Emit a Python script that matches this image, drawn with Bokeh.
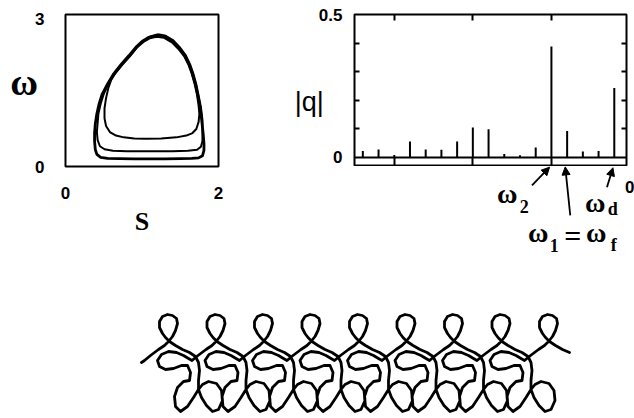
from bokeh.plotting import figure
from bokeh.layouts import column, row
from bokeh.models import Range1d, LinearAxis, FixedTicker, Span, Label, Arrow, NormalHead
from bokeh.embed import file_html
from bokeh.resources import INLINE

# ---------------- phase portrait (s, omega) ----------------
outer_s = [1.20, 1.30, 1.40, 1.48, 1.56, 1.62, 1.66, 1.70, 1.73, 1.76, 1.78, 1.80, 1.81, 1.81,
           1.79, 1.74, 1.65, 1.50, 1.30, 1.10, 0.90, 0.70, 0.55, 0.46, 0.41, 0.39, 0.38, 0.38,
           0.39, 0.41, 0.44, 0.48, 0.55, 0.63, 0.73, 0.83, 0.93, 1.01, 1.09, 1.20]
outer_w = [2.59, 2.57, 2.47, 2.35, 2.19, 2.00, 1.83, 1.62, 1.40, 1.17, 0.92, 0.64, 0.45, 0.32,
           0.21, 0.17, 0.16, 0.155, 0.15, 0.15, 0.15, 0.155, 0.16, 0.18, 0.24, 0.33, 0.50, 0.66,
           0.85, 1.04, 1.24, 1.43, 1.63, 1.83, 2.02, 2.19, 2.37, 2.48, 2.55, 2.59]
mid_s = [1.21, 1.31, 1.41, 1.49, 1.57, 1.63, 1.67, 1.71, 1.74, 1.77, 1.79, 1.79, 1.79, 1.77,
         1.72, 1.60, 1.40, 1.20, 1.00, 0.80, 0.62, 0.51, 0.45, 0.42, 0.41, 0.42, 0.43, 0.46,
         0.50, 0.56, 0.64, 0.74, 0.84, 0.94, 1.02, 1.10, 1.21]
mid_w = [2.61, 2.58, 2.49, 2.36, 2.20, 2.01, 1.84, 1.62, 1.40, 1.17, 0.92, 0.66, 0.50, 0.39,
         0.33, 0.31, 0.30, 0.30, 0.30, 0.30, 0.31, 0.34, 0.40, 0.52, 0.68, 0.86, 1.04, 1.24,
         1.43, 1.63, 1.82, 2.01, 2.18, 2.36, 2.48, 2.56, 2.61]
inner_s = [1.19, 1.29, 1.39, 1.47, 1.55, 1.61, 1.65, 1.69, 1.72, 1.74, 1.75, 1.74, 1.71, 1.66,
           1.58, 1.45, 1.25, 1.05, 0.90, 0.76, 0.66, 0.58, 0.53, 0.51, 0.51, 0.53, 0.56, 0.60,
           0.66, 0.75, 0.85, 0.94, 1.02, 1.10, 1.19]
inner_w = [2.56, 2.54, 2.45, 2.33, 2.18, 2.00, 1.83, 1.62, 1.41, 1.20, 1.04, 0.88, 0.74, 0.66,
           0.61, 0.575, 0.555, 0.55, 0.555, 0.575, 0.61, 0.68, 0.80, 0.95, 1.15, 1.35, 1.55, 1.72,
           1.86, 2.02, 2.19, 2.36, 2.46, 2.53, 2.56]
s_ticks = [0, 2]
w_ticks = [0, 2.92]
w_tick_labels = {0: "0", 2.92: "3"}

# ---------------- spectrum |q| ----------------
freq = [-3.4, -3.2, -3.0, -2.8, -2.6, -2.4, -2.2, -2.0, -1.8, -1.6, -1.4, -1.2, -1.0, -0.8,
        -0.6, -0.4, -0.2]
amp = [0.023, 0.028, 0.009, 0.056, 0.028, 0.027, 0.056, 0.105, 0.099, 0.012, 0.008, 0.035,
       0.388, 0.093, 0.021, 0.023, 0.243]
q_major = [0, 0.5]
q_minor = [0.1, 0.2, 0.3, 0.4]
f_ticks = [-3.0, -2.0, -1.0]
f_zero = 0.0

# arrows (tail x, tail y, head x, head y) and labels of the marked lines
arrow_tail_x = [-1.246, -0.758, -0.290]
arrow_tail_y = [-0.099, -0.204, -0.105]
arrow_head_x = [-1.022, -0.822, -0.214]
arrow_head_y = [-0.035, -0.034, -0.037]
sym_text = ["ω", "2", "ω", "d", "ω", "1", "=", "ω", "f"]
sym_x = [-1.561, -1.344, -0.4395, -0.2166, -1.166, -0.962, -0.726, -0.427, -0.204]
sym_y = [-0.128, -0.173, -0.1575, -0.183, -0.265, -0.309, -0.274, -0.264, -0.309]
sym_size = ["28px", "18px", "28px", "18px", "28px", "18px", "30px", "28px", "18px"]

# ---------------- trajectory (one traced period, repeated along the drift) ----------------
traj_u = [-24, -18, -10, -4, 0, 4, 7, 9, 8, 4, -1, -6, -9, -9, -6, -3, 1, 7, 14, 21,
          27, 30, 31, 30, 30, 33, 38, 44, 50, 54, 53, 48, 40, 34, 30, 25, 19, 12, 7, 6,
          9, 15, 21, 22, 19, 13, 5, -3, -9, -11, -7, 0, 8, 15, 20]
traj_y = [0, 5, 11, 15, 19, 24, 30, 37, 42, 45, 46, 44, 39, 33, 27, 23, 19, 15, 11, 8,
          4, -2, -10, -20, -29, -37, -45, -51, -49, -40, -30, -23, -21, -24, -29, -37, -46, -51, -46, -36,
          -27, -21, -20, -12, -5, -5, -8, -9, -6, 0, 6, 9, 8, 5, 2]
traj_start = (-27, -2)
traj_period = 47.5
n_periods = 9
last_period_points = 20

FONT_TICK = "Liberation Sans"
FONT_SYM = "Liberation Serif"


def style_frame(p):
    p.grid.visible = False
    p.outline_line_color = "black"
    p.outline_line_width = 2
    p.outline_line_alpha = 1.0
    p.background_fill_color = "white"
    p.border_fill_color = "white"


def style_axis(ax, standoff):
    ax.axis_line_color = None
    ax.major_label_text_font = FONT_TICK
    ax.major_label_text_font_style = "bold"
    ax.major_label_text_font_size = "17px"
    ax.major_label_text_color = "black"
    ax.major_label_standoff = standoff


def bare(p):
    p.grid.visible = False
    p.outline_line_color = None
    p.background_fill_color = "white"
    p.border_fill_color = "white"


# ---------------- left panel ----------------
p1 = figure(width=248, height=288, x_range=Range1d(0, 2), y_range=Range1d(0, 3),
            output_backend="svg", toolbar_location=None,
            min_border_left=65, min_border_right=30, min_border_top=14, min_border_bottom=122)
style_frame(p1)
p1.xaxis.ticker = FixedTicker(ticks=s_ticks)
p1.yaxis.ticker = FixedTicker(ticks=w_ticks)
p1.yaxis.major_label_overrides = w_tick_labels
for ax in (p1.xaxis[0], p1.yaxis[0]):
    style_axis(ax, 14)
    ax.major_tick_line_color = None
    ax.minor_tick_line_color = None
    ax.axis_label_text_font = FONT_SYM
    ax.axis_label_text_font_style = "bold"
    ax.axis_label_text_color = "black"
p1.yaxis.major_label_standoff = 15
p1.yaxis.axis_label = "ω\n"
p1.yaxis.axis_label_text_line_height = 0.42
p1.yaxis.axis_label_orientation = "horizontal"
p1.yaxis.axis_label_text_font_size = "38px"
p1.yaxis.axis_label_standoff = -6
p1.xaxis.axis_label = "S"
p1.xaxis.axis_label_text_font_size = "26px"
p1.xaxis.axis_label_standoff = 5

p1.line(outer_s, outer_w, line_color="black", line_width=2.8, line_join="round")
p1.line(mid_s, mid_w, line_color="black", line_width=2.0, line_join="round")
p1.line(inner_s, inner_w, line_color="black", line_width=2.0, line_join="round")

# ---------------- right panel ----------------
p2 = figure(width=386, height=166, x_range=Range1d(-3.506, -0.0446), y_range=Range1d(-0.0315, 0.5),
            output_backend="svg", toolbar_location=None,
            min_border_left=106, min_border_right=8, min_border_top=14, min_border_bottom=0)
style_frame(p2)

ly = p2.yaxis[0]
ly.ticker = FixedTicker(ticks=q_major, minor_ticks=q_minor)
style_axis(ly, 12)
ly.major_label_overrides = {0: "0", 0.5: "0.5"}
ly.major_tick_in = 0
ly.major_tick_out = 0
ly.minor_tick_in = 5
ly.minor_tick_out = 0
ly.minor_tick_line_width = 2
ly.axis_label = "\n|q|"
ly.axis_label_text_line_height = 0.75
ly.axis_label_text_font = FONT_TICK
ly.axis_label_text_font_style = "normal"
ly.axis_label_text_font_size = "27px"
ly.axis_label_text_color = "black"
ly.axis_label_orientation = "horizontal"
ly.axis_label_standoff = -8

bx = p2.xaxis[0]
bx.ticker = FixedTicker(ticks=[], minor_ticks=f_ticks)
bx.axis_line_color = None
bx.major_label_standoff = 0
bx.major_label_text_font_size = "0px"
bx.major_tick_out = 0
bx.minor_tick_in = 9
bx.minor_tick_out = 0
bx.minor_tick_line_width = 2

ry = LinearAxis(ticker=FixedTicker(ticks=[], minor_ticks=q_minor))
ry.axis_line_color = None
ry.major_label_standoff = 0
ry.major_label_text_font_size = "0px"
ry.major_tick_out = 0
ry.minor_tick_in = 5
ry.minor_tick_out = 0
ry.minor_tick_line_width = 2
p2.add_layout(ry, "right")

tx = LinearAxis(ticker=FixedTicker(ticks=[], minor_ticks=f_ticks))
tx.axis_line_color = None
tx.major_label_standoff = 0
tx.major_label_text_font_size = "0px"
tx.major_tick_out = 0
tx.minor_tick_in = 6
tx.minor_tick_out = 0
tx.minor_tick_line_width = 2
p2.add_layout(tx, "above")

p2.add_layout(Span(location=0, dimension="width", line_color="black", line_width=2))
p2.segment(x0=freq, y0=[0] * len(freq), x1=freq, y1=amp, line_color="black", line_width=2)

# ---------------- annotations under the spectrum (same frequency scale) ----------------
p2b = figure(width=386, height=122, x_range=Range1d(-4.860, 0.0609), y_range=Range1d(-0.460, -0.0326),
             output_backend="svg", toolbar_location=None,
             x_axis_location=None, y_axis_location=None,
             min_border_left=0, min_border_right=0, min_border_top=0, min_border_bottom=0)
bare(p2b)
for xs0, ys0, xe, ye in zip(arrow_tail_x, arrow_tail_y, arrow_head_x, arrow_head_y):
    p2b.add_layout(Arrow(end=NormalHead(size=8, fill_color="black", line_color="black"),
                         x_start=xs0, y_start=ys0, x_end=xe, y_end=ye,
                         line_color="black", line_width=1.8))
for lx, lyv, txt, size in zip(sym_x, sym_y, sym_text, sym_size):
    p2b.add_layout(Label(x=lx, y=lyv, text=txt, text_font=FONT_SYM, text_font_size=size,
                         text_font_style="bold",
                         text_align="center", text_baseline="middle", text_color="black"))
p2b.add_layout(Label(x=f_zero, y=-0.1027, text="0", text_font=FONT_TICK, text_font_style="bold",
                     text_font_size="17px", text_align="center", text_baseline="middle",
                     text_color="black"))

# ---------------- trajectory panel ----------------
p3 = figure(width=634, height=130, x_range=Range1d(-168, 466), y_range=Range1d(-58, 72),
            output_backend="svg", toolbar_location=None,
            x_axis_location=None, y_axis_location=None,
            min_border_left=0, min_border_right=0, min_border_top=0, min_border_bottom=0)
bare(p3)

path_x = [traj_start[0]]
path_y = [traj_start[1]]
for k in range(n_periods):
    npts = len(traj_u) if k < n_periods - 1 else last_period_points
    path_x += [u + k * traj_period for u in traj_u[:npts]]
    path_y += traj_y[:npts]
p3.line(path_x, path_y, line_color="black", line_width=2.8, line_join="round", line_cap="round")

# p2b is wrapped in its own row so that its frame is not aligned with the spectrum frame
layout = column(row(p1, column(p2, row(p2b))), p3)
open("out.html", "w").write(file_html(layout, INLINE))
